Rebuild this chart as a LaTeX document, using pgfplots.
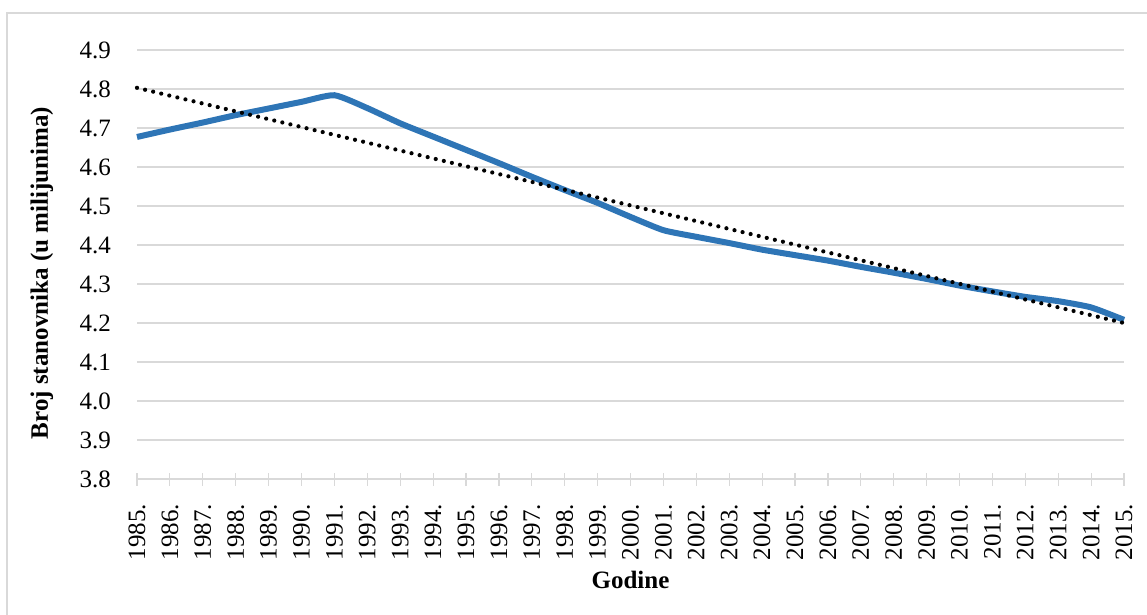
\documentclass[border=0pt]{standalone}
\usepackage{pgfplots}
\pgfplotsset{compat=1.18}
\usepackage{fontspec}
\setmainfont{Liberation Serif}
\definecolor{exblue}{RGB}{46,117,182}
\definecolor{exgrid}{RGB}{217,217,217}
\begin{document}
\begin{tikzpicture}[x=1pt,y=1pt]
\path[use as bounding box] (0,0) rectangle (1147,614);
\draw[exgrid,line width=1.2pt] (7,-20) -- (7,601) -- (1170,601);
\begin{axis}[
  at={(137pt,135pt)}, anchor=south west,
  scale only axis, width=987pt, height=429pt,
  xmin=1985, xmax=2015, ymin=3.8, ymax=4.9,
  xtick={1985,1986,...,2015},
  xticklabels={1985.,1986.,1987.,1988.,1989.,1990.,1991.,1992.,1993.,1994.,1995.,1996.,1997.,1998.,1999.,2000.,2001.,2002.,2003.,2004.,2005.,2006.,2007.,2008.,2009.,2010.,2011.,2012.,2013.,2014.,2015.},
  x tick label style={rotate=90, anchor=east, font=\fontsize{25}{30}\selectfont},
  ytick={3.8,3.9,4.0,4.1,4.2,4.3,4.4,4.5,4.6,4.7,4.8,4.9},
  yticklabels={3.8,3.9,4.0,4.1,4.2,4.3,4.4,4.5,4.6,4.7,4.8,4.9},
  yticklabel style={font=\fontsize{25}{30}\selectfont},
  ymajorgrids, major grid style={exgrid, line width=1.2pt},
  axis x line=bottom, axis y line=left,
  axis line style={exgrid, line width=1.2pt, -},
  y axis line style={draw=none},
  tick align=center, major tick length=13pt,
  xtick style={exgrid, line width=1.2pt},
  ytick style={draw=none},
  xticklabel shift=15pt, yticklabel shift=16pt,
  xlabel={\textbf{Godine}},
  xlabel style={font=\fontsize{25}{30}\selectfont, at={(axis description cs:0.5,0)}, anchor=center, yshift=-101pt},
  ylabel={\textbf{Broj stanovnika (u milijunima)}},
  ylabel style={font=\fontsize{25}{30}\selectfont, at={(axis description cs:-0.0963,0.48)}, anchor=center},
  clip=false,
]
\addplot[exblue, line width=6pt, smooth, tension=0.35] coordinates {
(1985,4.677) (1986,4.696) (1987,4.714) (1988,4.733) (1989,4.750) (1990,4.767)
(1991,4.784) (1992,4.751) (1993,4.712) (1994,4.678) (1995,4.644) (1996,4.610)
(1997,4.575) (1998,4.541) (1999,4.508) (2000,4.472) (2001,4.438) (2002,4.421)
(2003,4.405) (2004,4.388) (2005,4.374) (2006,4.360) (2007,4.344) (2008,4.329)
(2009,4.313) (2010,4.296) (2011,4.281) (2012,4.267) (2013,4.256) (2014,4.240)
(2015,4.208)
};
\addplot[black, line width=4.2pt, line cap=round, dash pattern=on 0pt off 8.3pt] coordinates {
(1985,4.803) (2015,4.200)
};
\end{axis}
\end{tikzpicture}
\end{document}
